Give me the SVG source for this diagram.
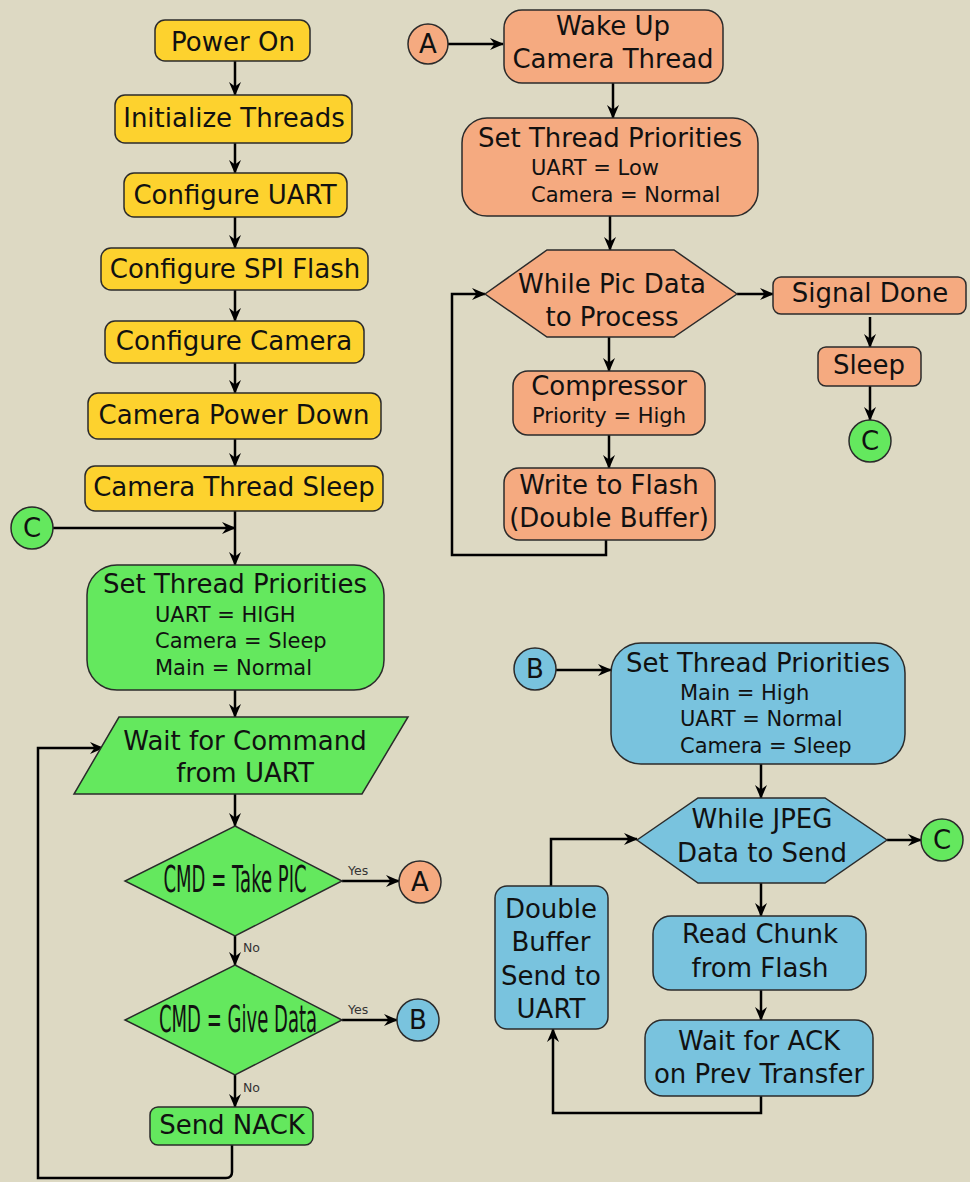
<svg xmlns="http://www.w3.org/2000/svg" width="970" height="1182" viewBox="0 0 970 1182">
<defs>
<marker id="ah" viewBox="0 0 14 12" refX="13" refY="6" markerWidth="14" markerHeight="12" markerUnits="userSpaceOnUse" orient="auto">
<path d="M14,6 L0,0 L4.5,6 L0,12 Z" fill="#000"/>
</marker>
<style>
.n{stroke:#2b2b2b;stroke-width:1.5}
.y{fill:#fdd22e}
.g{fill:#64e85e}
.o{fill:#f5aa80}
.b{fill:#79c3de}
.t{font-family:"DejaVu Sans",sans-serif;font-size:26px;fill:#111;text-anchor:middle}
.d{font-size:38px}
.s{font-family:"DejaVu Sans",sans-serif;font-size:21px;fill:#111}
.l{font-family:"DejaVu Sans",sans-serif;font-size:12.5px;fill:#333}
.c{fill:none;stroke:#000;stroke-width:2.5}
.a{marker-end:url(#ah)}
</style>
</defs>
<rect x="0" y="0" width="970" height="1182" fill="#ddd9c3"/>

<g id="connectors">
<path class="c a" d="M235,61 V95"/>
<path class="c a" d="M235,143 V173"/>
<path class="c a" d="M235,217 V248"/>
<path class="c a" d="M235,290 V321"/>
<path class="c a" d="M235,363 V393"/>
<path class="c a" d="M235,439 V466"/>
<path class="c a" d="M235,511 V565"/>
<path class="c a" d="M53,528 H235"/>
<path class="c a" d="M235,690 V717"/>
<path class="c a" d="M235,794 V826"/>
<path class="c a" d="M235,936 V965"/>
<path class="c a" d="M235,1075 V1107"/>
<path class="c a" d="M342,881 H399"/>
<path class="c a" d="M342,1020 H397"/>
<path class="c a" d="M232,1145 V1172 Q232,1178 226,1178 H38 V748 H103"/>
<path class="c a" d="M448,44 H503"/>
<path class="c a" d="M613,83 V118"/>
<path class="c a" d="M610,216 V250"/>
<path class="c a" d="M737,294 H773"/>
<path class="c a" d="M870,317 V347"/>
<path class="c a" d="M870,386 V420"/>
<path class="c a" d="M609,337 V371"/>
<path class="c a" d="M609,435 V468"/>
<path class="c a" d="M606,540 V555 H452 V294 H485"/>
<path class="c a" d="M556,670 H611"/>
<path class="c a" d="M761,764 V798"/>
<path class="c a" d="M887,840 H921"/>
<path class="c a" d="M761,883 V916"/>
<path class="c a" d="M761,990 V1020"/>
<path class="c a" d="M761,1096 V1113 H553 V1029"/>
<path class="c a" d="M551,886 V839 H637"/>
<text class="l" x="348" y="875">Yes</text>
<text class="l" x="348" y="1014">Yes</text>
<text class="l" x="243" y="952">No</text>
<text class="l" x="243" y="1092">No</text>
</g>

<g id="power-on"><rect class="n y" x="155" y="20" width="155" height="41" rx="10"/><text class="t" x="233" y="51">Power On</text></g>
<g id="init-threads"><rect class="n y" x="115" y="95" width="237" height="48" rx="10"/><text class="t" x="234" y="127">Initialize Threads</text></g>
<g id="config-uart"><rect class="n y" x="124" y="173" width="223" height="44" rx="10"/><text class="t" x="235" y="204">Configure UART</text></g>
<g id="config-spi"><rect class="n y" x="101" y="248" width="267" height="42" rx="10"/><text class="t" x="235" y="278">Configure SPI Flash</text></g>
<g id="config-camera"><rect class="n y" x="105" y="321" width="259" height="42" rx="10"/><text class="t" x="234" y="350">Configure Camera</text></g>
<g id="camera-power-down"><rect class="n y" x="88" y="393" width="293" height="46" rx="10"/><text class="t" x="234" y="424">Camera Power Down</text></g>
<g id="camera-thread-sleep"><rect class="n y" x="85" y="466" width="298" height="45" rx="10"/><text class="t" x="234" y="496">Camera Thread Sleep</text></g>
<g id="c-left"><circle class="n g" cx="32" cy="528" r="21"/><text class="t" x="32" y="537">C</text></g>
<g id="main-priorities"><rect class="n g" x="87" y="565" width="297" height="125" rx="30"/><text class="t" x="235" y="593">Set Thread Priorities</text><text class="s" x="155" y="622">UART = HIGH</text><text class="s" x="155" y="648">Camera = Sleep</text><text class="s" x="155" y="675">Main = Normal</text></g>
<g id="wait-command"><polygon class="n g" points="119,717 408,717 362,794 74,794"/><text class="t" x="245" y="750">Wait for Command</text><text class="t" x="245" y="782">from UART</text></g>
<g id="cmd-take-pic"><polygon class="n g" points="235,826 342,881 235,936 125,881"/><text class="t d" transform="translate(235,892) scale(0.475,1)" x="0" y="0">CMD = Take PIC</text></g>
<g id="cmd-give-data"><polygon class="n g" points="235,965 342,1020 235,1075 125,1020"/><text class="t d" transform="translate(238,1032) scale(0.475,1)" x="0" y="0">CMD = Give Data</text></g>
<g id="send-nack"><rect class="n g" x="150" y="1107" width="163" height="38" rx="8"/><text class="t" x="232" y="1134">Send NACK</text></g>
<g id="a-left"><circle class="n o" cx="420" cy="882" r="21"/><text class="t" x="420" y="891">A</text></g>
<g id="b-left"><circle class="n b" cx="418" cy="1020" r="21"/><text class="t" x="418" y="1029">B</text></g>

<g id="a-right"><circle class="n o" cx="428" cy="44" r="20"/><text class="t" x="428" y="53">A</text></g>
<g id="wake-up"><rect class="n o" x="504" y="10" width="219" height="73" rx="18"/><text class="t" x="613" y="35">Wake Up</text><text class="t" x="613" y="68">Camera Thread</text></g>
<g id="camera-priorities"><rect class="n o" x="462" y="118" width="296" height="98" rx="25"/><text class="t" x="610" y="147">Set Thread Priorities</text><text class="s" x="531" y="175">UART = Low</text><text class="s" x="531" y="202">Camera = Normal</text></g>
<g id="while-pic"><polygon class="n o" points="485,294 547,250 674,250 737,294 674,337 547,337"/><text class="t" x="612" y="293">While Pic Data</text><text class="t" x="612" y="326">to Process</text></g>
<g id="signal-done"><rect class="n o" x="773" y="277" width="193" height="37" rx="8"/><text class="t" x="870" y="302">Signal Done</text></g>
<g id="sleep"><rect class="n o" x="818" y="347" width="103" height="39" rx="8"/><text class="t" x="869" y="374">Sleep</text></g>
<g id="c-top"><circle class="n g" cx="870" cy="441" r="21"/><text class="t" x="870" y="450">C</text></g>
<g id="compressor"><rect class="n o" x="513" y="371" width="192" height="64" rx="15"/><text class="t" x="609" y="395">Compressor</text><text class="s" x="609" y="423" text-anchor="middle">Priority = High</text></g>
<g id="write-flash"><rect class="n o" x="504" y="468" width="211" height="72" rx="15"/><text class="t" x="609" y="494">Write to Flash</text><text class="t" x="609" y="527">(Double Buffer)</text></g>

<g id="b-right"><circle class="n b" cx="535" cy="669" r="21"/><text class="t" x="535" y="678">B</text></g>
<g id="data-priorities"><rect class="n b" x="611" y="643" width="294" height="121" rx="30"/><text class="t" x="758" y="672">Set Thread Priorities</text><text class="s" x="680" y="700">Main = High</text><text class="s" x="680" y="726">UART = Normal</text><text class="s" x="680" y="753">Camera = Sleep</text></g>
<g id="while-jpeg"><polygon class="n b" points="637,840 698,798 825,798 887,840 825,883 698,883"/><text class="t" x="762" y="828">While JPEG</text><text class="t" x="762" y="862">Data to Send</text></g>
<g id="c-right"><circle class="n g" cx="942" cy="840" r="21"/><text class="t" x="942" y="849">C</text></g>
<g id="read-chunk"><rect class="n b" x="653" y="916" width="213" height="74" rx="18"/><text class="t" x="760" y="943">Read Chunk</text><text class="t" x="760" y="977">from Flash</text></g>
<g id="wait-ack"><rect class="n b" x="645" y="1020" width="228" height="76" rx="18"/><text class="t" x="759" y="1050">Wait for ACK</text><text class="t" x="759" y="1083">on Prev Transfer</text></g>
<g id="double-buffer"><rect class="n b" x="495" y="886" width="113" height="143" rx="12"/><text class="t" x="551" y="918">Double</text><text class="t" x="551" y="951">Buffer</text><text class="t" x="551" y="985">Send to</text><text class="t" x="551" y="1018">UART</text></g>
</svg>
